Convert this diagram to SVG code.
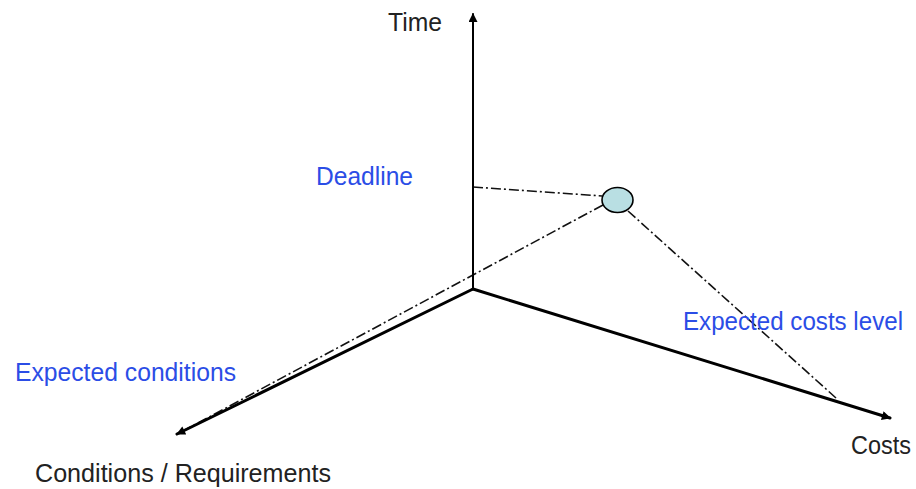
<svg xmlns="http://www.w3.org/2000/svg" width="916" height="489" viewBox="0 0 916 489">
<style>
.lbl{font-family:"Liberation Sans",Arial,sans-serif;font-size:26px;fill:#222}
.blue{fill:#2b4de6}
.axis{stroke:#000;fill:none;stroke-linecap:round}
.dd{stroke:#111;fill:none;stroke-width:1.6;stroke-dasharray:10 3 2 3}
</style>
<defs>
<marker id="ah" viewBox="0 0 10 10" refX="9" refY="5" markerWidth="12" markerHeight="9" markerUnits="userSpaceOnUse" orient="auto">
<path d="M0,0 L10,5 L0,10 z" fill="#000"/>
</marker>
</defs>
<g id="connectors">
<line class="dd" x1="473" y1="187" x2="602" y2="196"/>
<line class="dd" x1="603" y1="205" x2="185" y2="430"/>
<line class="dd" x1="628" y1="211" x2="836" y2="398"/>
<line class="axis" stroke-width="2" x1="473" y1="289" x2="473" y2="14" marker-end="url(#ah)"/>
<line class="axis" stroke-width="3" x1="473" y1="289" x2="177" y2="434" marker-end="url(#ah)"/>
<line class="axis" stroke-width="3" x1="473" y1="289" x2="890" y2="418" marker-end="url(#ah)"/>
</g>
<g id="point">
<ellipse cx="617.5" cy="200" rx="15.5" ry="12.5" fill="#b9dfe3" stroke="#000" stroke-width="1.6"/>
</g>
<g id="label-time"><text class="lbl" x="388" y="31" textLength="54" lengthAdjust="spacingAndGlyphs">Time</text></g>
<g id="label-deadline"><text class="lbl blue" x="316" y="185" textLength="97" lengthAdjust="spacingAndGlyphs">Deadline</text></g>
<g id="label-costs-level"><text class="lbl blue" x="683" y="330" textLength="220" lengthAdjust="spacingAndGlyphs" style="font-size:25px">Expected costs level</text></g>
<g id="label-conditions"><text class="lbl blue" x="15" y="381" textLength="221" lengthAdjust="spacingAndGlyphs">Expected conditions</text></g>
<g id="label-cond-req"><text class="lbl" x="35" y="482" textLength="296" lengthAdjust="spacingAndGlyphs" style="font-size:25px">Conditions / Requirements</text></g>
<g id="label-costs"><text class="lbl" x="851" y="454" textLength="60" lengthAdjust="spacingAndGlyphs">Costs</text></g>
</svg>
